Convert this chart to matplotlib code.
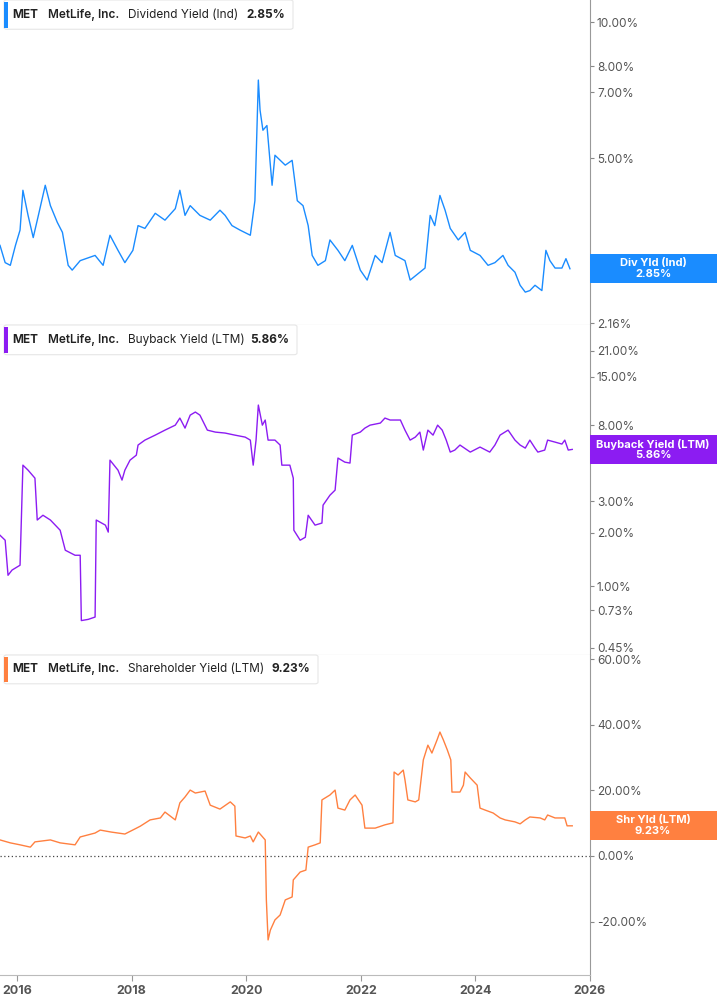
import matplotlib
matplotlib.use("Agg")
import matplotlib.pyplot as plt
from matplotlib.patches import FancyBboxPatch, Rectangle
from matplotlib.ticker import FixedLocator, NullLocator

plt.rcParams["font.family"] = "Inter"

div_years = [2015.70,2015.79,2015.88,2015.97,2016.05,2016.10,2016.19,2016.28,2016.37,2016.49,2016.58,2016.70,2016.79,2016.89,2016.96,2017.10,2017.36,2017.50,2017.62,2017.76,2017.88,2018.02,2018.11,2018.23,2018.41,2018.58,2018.76,2018.84,2018.93,2019.02,2019.19,2019.37,2019.54,2019.63,2019.75,2019.89,2020.07,2020.15,2020.21,2020.24,2020.29,2020.36,2020.45,2020.50,2020.68,2020.80,2020.89,2020.99,2021.08,2021.15,2021.25,2021.38,2021.46,2021.60,2021.72,2021.85,2021.99,2022.11,2022.25,2022.37,2022.51,2022.60,2022.77,2022.86,2023.03,2023.12,2023.21,2023.29,2023.38,2023.47,2023.56,2023.70,2023.82,2023.91,2024.08,2024.22,2024.34,2024.48,2024.57,2024.69,2024.78,2024.87,2024.95,2025.04,2025.16,2025.23,2025.30,2025.39,2025.51,2025.58,2025.65]
div_vals = [3.21,2.94,2.90,3.21,3.47,4.25,3.74,3.34,3.74,4.36,3.93,3.61,3.43,2.90,2.83,2.97,3.05,2.90,3.38,3.13,2.94,3.13,3.55,3.50,3.78,3.65,3.87,4.25,3.74,3.93,3.74,3.65,3.84,3.74,3.55,3.47,3.38,4.03,7.45,6.39,5.77,5.91,4.36,5.08,4.83,4.95,4.03,3.93,3.55,3.05,2.90,2.97,3.30,3.13,2.97,3.21,2.83,2.69,3.05,2.94,3.43,3.05,2.97,2.69,2.80,2.86,3.74,3.55,4.14,3.84,3.50,3.30,3.43,3.13,3.05,2.90,2.94,3.05,2.90,2.80,2.62,2.53,2.55,2.62,2.55,3.13,2.97,2.86,2.86,3.00,2.85]

bb_years = [2015.70,2015.79,2015.84,2015.91,2016.05,2016.10,2016.19,2016.31,2016.35,2016.45,2016.58,2016.75,2016.84,2017.01,2017.10,2017.12,2017.24,2017.36,2017.38,2017.54,2017.59,2017.62,2017.76,2017.83,2017.88,2017.97,2018.08,2018.11,2018.23,2018.41,2018.58,2018.76,2018.84,2018.93,2019.02,2019.11,2019.19,2019.32,2019.46,2019.63,2019.80,2019.98,2020.07,2020.12,2020.17,2020.21,2020.28,2020.33,2020.38,2020.50,2020.59,2020.62,2020.76,2020.82,2020.83,2020.94,2021.03,2021.08,2021.20,2021.32,2021.34,2021.46,2021.55,2021.60,2021.72,2021.81,2021.85,2021.99,2022.07,2022.16,2022.34,2022.42,2022.51,2022.60,2022.69,2022.77,2022.86,2022.95,2023.03,2023.09,2023.17,2023.26,2023.34,2023.42,2023.49,2023.56,2023.64,2023.73,2023.91,2024.08,2024.25,2024.34,2024.43,2024.57,2024.69,2024.78,2024.87,2024.95,2025.04,2025.09,2025.21,2025.26,2025.39,2025.51,2025.56,2025.62,2025.69]
bb_vals = [1.93,1.81,1.15,1.23,1.31,4.78,4.48,4.04,2.35,2.50,2.35,2.06,1.59,1.49,1.49,0.64,0.65,0.67,2.35,2.20,2.01,5.10,4.48,3.94,4.48,5.10,5.44,6.20,6.61,7.05,7.52,8.02,8.79,7.72,9.13,9.50,9.13,7.52,7.33,7.24,7.05,6.87,6.61,4.78,6.61,10.4,8.02,8.57,6.61,6.61,6.20,4.78,4.78,4.04,2.06,1.81,1.88,2.50,2.20,2.26,2.85,3.24,3.46,5.24,4.97,4.91,7.05,7.33,7.72,8.02,8.24,8.79,8.57,8.57,8.57,7.52,6.61,6.87,7.33,5.81,7.52,7.05,8.02,7.52,6.61,5.66,5.81,6.20,5.66,6.04,5.66,6.20,7.05,7.52,6.61,6.20,5.96,6.61,5.96,5.66,5.81,6.61,6.44,6.28,6.61,5.81,5.86]

sh_years = [2015.70,2015.88,2016.05,2016.23,2016.31,2016.58,2016.75,2017.01,2017.10,2017.36,2017.45,2017.64,2017.88,2018.05,2018.15,2018.32,2018.50,2018.58,2018.76,2018.84,2018.93,2019.02,2019.11,2019.28,2019.37,2019.54,2019.72,2019.80,2019.82,2019.98,2020.07,2020.12,2020.21,2020.33,2020.35,2020.38,2020.42,2020.50,2020.59,2020.68,2020.80,2020.82,2020.94,2021.04,2021.08,2021.20,2021.29,2021.32,2021.46,2021.55,2021.60,2021.72,2021.81,2021.90,2022.02,2022.07,2022.25,2022.42,2022.56,2022.58,2022.65,2022.74,2022.77,2022.82,2022.95,2023.01,2023.09,2023.17,2023.24,2023.33,2023.38,2023.44,2023.51,2023.57,2023.59,2023.73,2023.79,2023.82,2023.91,2024.03,2024.08,2024.17,2024.31,2024.43,2024.52,2024.69,2024.78,2024.87,2024.95,2025.13,2025.21,2025.26,2025.39,2025.56,2025.60,2025.69]
sh_vals = [4.9,4.0,3.4,2.7,4.3,4.9,4.0,3.4,5.8,7.0,7.9,7.3,6.7,8.2,9.1,11.0,11.6,13.4,11.0,16.2,18.0,20.1,19.2,19.8,15.5,14.3,16.5,15.2,6.1,5.5,6.1,4.3,7.3,4.9,-13.4,-25.6,-22.6,-19.5,-18.0,-13.4,-12.5,-7.3,-4.9,-4.3,2.7,3.4,4.0,17.1,18.6,20.1,14.6,14.0,17.1,18.6,15.5,8.5,8.5,9.5,10.1,25.6,24.7,26.2,23.2,17.1,16.5,17.1,29.3,33.8,31.4,35.4,37.8,35.4,32.3,29.3,19.5,19.5,21.6,25.6,23.8,21.6,14.6,14.0,13.1,11.6,11.0,10.4,9.8,11.0,11.9,11.6,11.0,12.5,11.6,11.6,9.2,9.2]

div_ticks = [2.16, 3.0, 5.0, 7.0, 8.0, 10.0]
bb_ticks = [0.45, 0.73, 1.0, 2.0, 3.0, 8.0, 15.0, 21.0]
sh_ticks = [-20, 0, 20, 40, 60]
x_ticks = [2016, 2018, 2020, 2022, 2024, 2026]

BLUE, PURPLE, ORANGE = "#1a8cff", "#8c1cf2", "#ff8040"
GRAY = "#555555"
W, H = 717, 1005
fig = plt.figure(figsize=(W/100, H/100), dpi=100)
XL = (2015.70, 2026.0)
PW = 590 / W

def mkax(top, bot):
    return fig.add_axes([0, 1 - bot/H, PW, (bot-top)/H])

ax1 = mkax(0, 325); ax2 = mkax(325, 655); ax3 = mkax(655, 975)
panels = [
    (ax1, div_years, div_vals, BLUE, "log", (2.14, 11.2), div_ticks, "Dividend Yield (Ind)", "2.85%", "Div Yld (Ind)", 2.85, 293),
    (ax2, bb_years, bb_vals, PURPLE, "log", (0.41, 29.3), bb_ticks, "Buyback Yield (LTM)", "5.86%", "Buyback Yield (LTM)", 5.86, 297),
    (ax3, sh_years, sh_vals, ORANGE, "linear", (-36.3, 61.3), sh_ticks, "Shareholder Yield (LTM)", "9.23%", "Shr Yld (LTM)", 9.23, 318),
]
for ax, xs, ys, col, sc, yl, tk, name, last, lab, lv, boxr in panels:
    ax.plot(xs, ys, color=col, lw=1.0)
    ax.set_yscale(sc)
    ax.set_ylim(*yl)
    ax.set_xlim(*XL)
    ax.yaxis.tick_right()
    ax.yaxis.set_major_locator(FixedLocator(tk))
    ax.yaxis.set_minor_locator(NullLocator())
    ax.set_yticklabels([f"{t:.2f}%" for t in tk])
    ax.tick_params(axis="y", colors="#888888", labelcolor=GRAY, labelsize=8.5, length=3, width=0.8, pad=2)
    for s in ["left", "top"]:
        ax.spines[s].set_visible(False)
    ax.spines["right"].set_color("#999999")
    ax.spines["bottom"].set_color("#bbbbbb")
    ax.set_xticks(x_ticks)
    fs = 8.5
    hx = lambda px: px / 590
    ax.text(hx(12), 0.955, "MET", transform=ax.transAxes, fontsize=fs, fontweight="bold", color="#222222", va="center", zorder=7)
    ax.text(hx(48), 0.955, "MetLife, Inc.", transform=ax.transAxes, fontsize=fs, fontweight="semibold", color="#222222", va="center", zorder=7)
    ax.text(hx(128), 0.955, name, transform=ax.transAxes, fontsize=fs, color="#222222", va="center", zorder=7)
    ax.text(hx(boxr - 8), 0.955, last, transform=ax.transAxes, fontsize=fs, fontweight="bold", color="#222222", va="center", ha="right", zorder=7)
    ax.add_patch(FancyBboxPatch((hx(4), 0.91), hx(boxr - 4), 0.09, boxstyle="round,pad=0,rounding_size=0.005", transform=ax.transAxes,
                                fc="white", ec="#e6e6e6", lw=0.8, zorder=5, clip_on=False))
    ax.add_patch(Rectangle((hx(4), 0.915), hx(3.5), 0.08, transform=ax.transAxes, fc=col, ec="none", zorder=6, clip_on=False))
    ytr = ax.transData.transform((XL[1], lv))
    yfrac = ax.transAxes.inverted().transform(ytr)[1]
    bh = 29 / ((ax.get_position().height) * H)
    ax.add_patch(Rectangle((1.0, yfrac - bh/2), 127/590, bh, transform=ax.transAxes, fc=col, ec="none", zorder=8, clip_on=False))
    ax.text(1 + 63/590, yfrac, f"{lab}\n{lv:.2f}%", transform=ax.transAxes, ha="center", va="center", fontsize=8,
            fontweight="bold", color="white", zorder=9, linespacing=1.1)

for ax in (ax1, ax2):
    ax.tick_params(axis="x", bottom=False, labelbottom=False)
ax3.axhline(0, color="#444444", lw=0.9, ls=(0, (1, 2)))
ax3.tick_params(axis="x", colors="#999999", labelcolor=GRAY, labelsize=9, length=4, pad=3)
for l in ax3.get_xticklabels():
    l.set_fontweight("bold")

fig.savefig("out.png", dpi=100)
